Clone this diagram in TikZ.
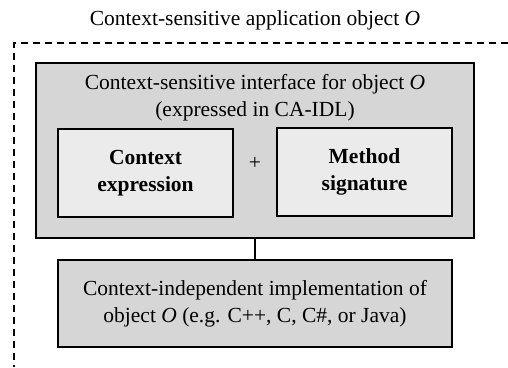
\documentclass[tikz,border=0pt]{standalone}
\usepackage{fontspec}
\setmainfont{Liberation Serif}
\usepackage{tikz}
\usetikzlibrary{positioning}

\begin{document}
\begin{tikzpicture}[x=1pt,y=-1pt,
                font=\fontsize{21.5}{27}\selectfont,
                outerbox/.style={draw=black,line width=1.3pt,fill=black!16,minimum width=438,minimum height=175},
                partbox/.style={draw=black,line width=1.3pt,fill=black!8,minimum width=175,minimum height=88,align=center,font=\fontsize{21.5}{27}\selectfont\bfseries},
                implbox/.style={draw=black,line width=1.3pt,fill=black!16,minimum width=394,minimum height=87,align=center},
                boundary/.style={line width=1.3pt,dash pattern=on 7pt off 5pt}
            ]
                \useasboundingbox (0,0) rectangle (508,367);
% dashed border of the application object
                \coordinate (tr) at (508,43);
                \coordinate (tl) at (14,43);
                \coordinate (bl) at (14,367);
                \draw[boundary] (tr) -- (tl) -- (bl);
                \node (title) at (255,20) {Context-sensitive application object \textit{O}};

                \node[outerbox] (iface) at (255,150.5) { };
                \node[align=center] (ifacetext) at (255,98) {Context-sensitive interface for object \textit{O}\\(expressed in CA-IDL)};
                \node[partbox] (ctx) at (145.5,173) {Context\\expression};
                \node[partbox] (meth) at (364.5,172) {Method\\signature};
                \node (plus) at (255,163) {+};

                \node[implbox] (impl) at (255,303.5) {Context-independent implementation of\\object \textit{O} (e.g. C++, C, C\#, or Java)};
                \draw[line width=1.3pt] (iface) -- (impl);

            \end{tikzpicture}
\end{document}
